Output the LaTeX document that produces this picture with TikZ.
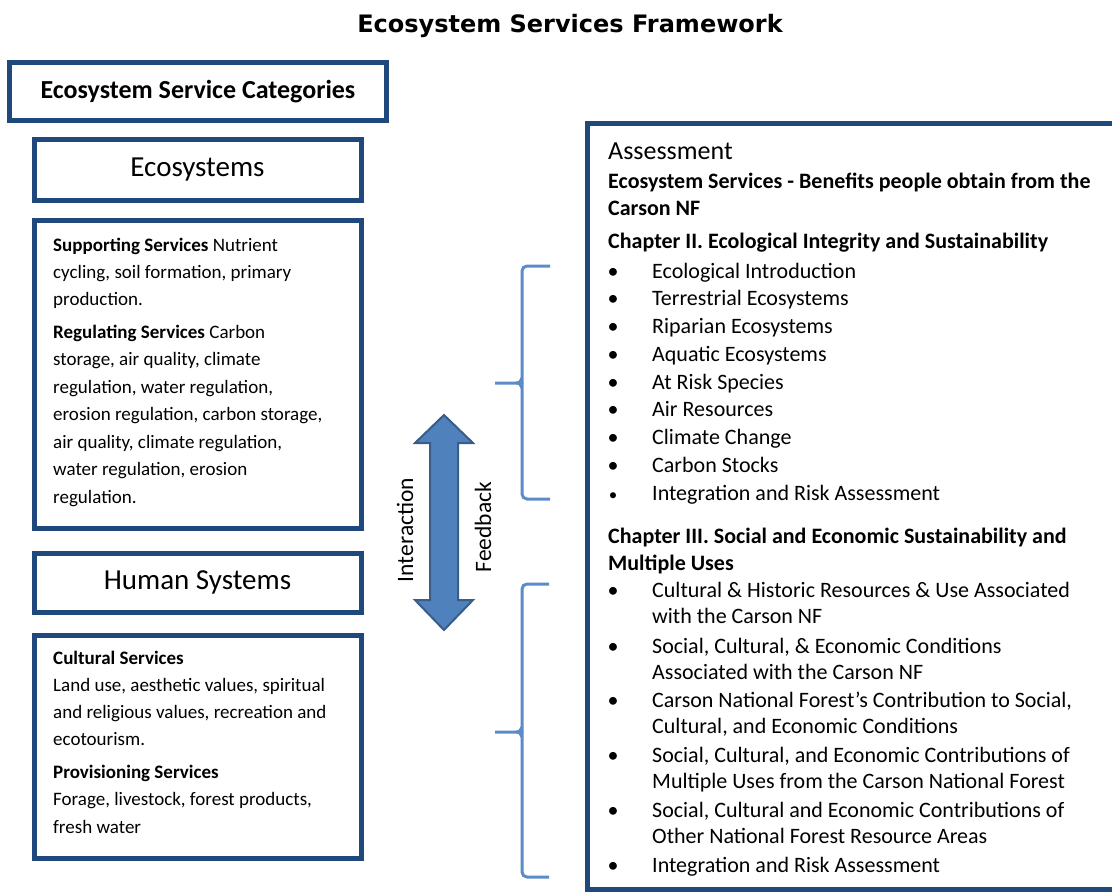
\documentclass[tikz,border=0pt]{standalone}
\usepackage{fontspec}
\setmainfont{Carlito}
\newfontfamily\titlefont{DejaVu Sans}
\definecolor{boxblue}{HTML}{1F497D}
\definecolor{arrowfill}{HTML}{4F81BD}
\definecolor{arrowline}{HTML}{385D8A}
\definecolor{bracecol}{HTML}{5B8CC8}
\begin{document}
\begin{tikzpicture}[x=1pt,y=-1pt,
  frame/.style={draw=boxblue, line width=5pt, fill=white, inner sep=0pt},
  smalltext/.style={anchor=base west, align=left, inner sep=0pt,
    font=\fontsize{19}{27}\selectfont},
  righttext/.style={anchor=base west, align=left, inner sep=0pt,
    font=\fontsize{22}{27}\selectfont},
  bul/.style={anchor=base, inner sep=0pt, font=\fontsize{22}{27}\selectfont},
  brace/.style={draw=bracecol, line width=3pt, rounded corners=5pt},
  sidelabel/.style={rotate=90, inner sep=0pt, font=\fontsize{23.5}{28}\selectfont}]

\useasboundingbox (0,0) rectangle (1112,892);
\clip (0,0) rectangle (1112,892);

% title
\node[anchor=base, inner sep=0pt, font=\titlefont\bfseries\fontsize{24}{28}\selectfont]
  (title) at (570,32) {Ecosystem Services Framework};

% left column frames
\node[frame, minimum width=377, minimum height=58, font=\bfseries\fontsize{26}{30}\selectfont]
  (cat) at (198,91.5) {Ecosystem Service Categories};
\node[frame, minimum width=327, minimum height=61, font=\fontsize{29}{32}\selectfont]
  (eco) at (197.5,170) {Ecosystems};
\node[frame, minimum width=327, minimum height=308] (ecobox) at (197.5,374) {};
\node[frame, minimum width=327, minimum height=59, font=\fontsize{29}{32}\selectfont]
  (hum) at (197.5,582.5) {Human Systems};
\node[frame, minimum width=327, minimum height=223] (humbox) at (197.5,746.5) {};

% ecosystem services text (each node is placed at the baseline of its last line)
\node[smalltext] (sup) at (53,305) {\textbf{Supporting Services} Nutrient\\
  cycling, soil formation, primary\\ production.};
\node[smalltext, font=\fontsize{19}{27.5}\selectfont] (reg) at (53,503) {\textbf{Regulating Services} Carbon\\
  storage, air quality, climate\\ regulation, water regulation,\\
  erosion regulation, carbon storage,\\ air quality, climate regulation,\\
  water regulation, erosion\\ regulation.};

% human systems text
\node[smalltext, font=\fontsize{19}{26.7}\selectfont] (cult) at (53,745) {\textbf{Cultural Services}\\
  Land use, aesthetic values, spiritual\\ and religious values, recreation and\\
  ecotourism.};
\node[smalltext, font=\fontsize{19}{27.5}\selectfont] (prov) at (53,833) {\textbf{Provisioning Services}\\
  Forage, livestock, forest products,\\ fresh water};

% two-way arrow
\fill[arrowfill, draw=arrowline, line width=2pt, line join=miter]
  (444,415) -- (473,443) -- (458,443) -- (458,600) -- (473,600) -- (444,630)
  -- (415,600) -- (430,600) -- (430,443) -- (415,443) -- cycle;
\node[sidelabel] (inter) at (405,530) {Interaction};
\node[sidelabel] (feed) at (483,527) {Feedback};

% braces
\draw[brace] (550,266) -- (522,266) -- (522,383.5);
\draw[brace] (522,382.5) -- (522,499) -- (550,499);
\draw[draw=bracecol, line width=3pt] (495,383) -- (516,383) .. controls (520,383) and (521,381) .. (522,378);
\draw[draw=bracecol, line width=3pt] (516,383) .. controls (520,383) and (521,385) .. (522,388);

\draw[brace] (549,584) -- (522,584) -- (522,732.5);
\draw[brace] (522,731.5) -- (522,877) -- (549,877);
\draw[draw=bracecol, line width=3pt] (495,732) -- (516,732) .. controls (520,732) and (521,730) .. (522,727);
\draw[draw=bracecol, line width=3pt] (516,732) .. controls (520,732) and (521,734) .. (522,737);

% assessment panel, running on past the right edge
\draw[draw=boxblue, line width=5pt, line join=miter]
  (1125,123) -- (587,123) -- (587,889) -- (1125,889);
\coordinate (assess) at (587,123);
\node[anchor=base west, inner sep=0pt, font=\fontsize{26}{30}\selectfont] (ahead) at (608,159) {Assessment};
\node[righttext, font=\bfseries\fontsize{22}{27}\selectfont] (benef) at (608,215)
  {Ecosystem Services - Benefits people obtain from the\\ Carson NF};
\node[righttext, font=\bfseries\fontsize{22}{27}\selectfont] (ch2) at (608,248)
  {Chapter II. Ecological Integrity and Sustainability};

\foreach \t/\y [count=\i] in {Ecological Introduction/278, Terrestrial Ecosystems/305.75,
  Riparian Ecosystems/333.5, Aquatic Ecosystems/361.25, At Risk Species/389,
  Air Resources/416.75, Climate Change/444.5, Carbon Stocks/472.25}{
  \node[bul] (b\i) at (613,\y) {•};
  \node[righttext] (e\i) at (652,\y) {\t};
}
\node[bul, font=\fontsize{17}{27}\selectfont] (b9) at (613,500) {•};
\node[righttext] (e9) at (652,500) {Integration and Risk Assessment};

\node[righttext, font=\bfseries\fontsize{22}{27}\selectfont] (ch3) at (608,570)
  {Chapter III. Social and Economic Sustainability and\\ Multiple Uses};

\foreach \t/\y/\z [count=\i] in {
  {Cultural \& Historic Resources \& Use Associated\\ with the Carson NF}/597/623.5,
  {Social, Cultural, \& Economic Conditions\\ Associated with the Carson NF}/653/679.5,
  {Carson National Forest’s Contribution to Social,\\ Cultural, and Economic Conditions}/707/733.5,
  {Social, Cultural, and Economic Contributions of\\ Multiple Uses from the Carson National Forest}/762/788.5,
  {Social, Cultural and Economic Contributions of\\ Other National Forest Resource Areas}/817/843.5,
  {Integration and Risk Assessment}/872/872}{
  \node[bul] (c\i) at (613,\y) {•};
  \node[righttext, font=\fontsize{22}{26.5}\selectfont] (s\i) at (652,\z) {\t};
}
\end{tikzpicture}
\end{document}
